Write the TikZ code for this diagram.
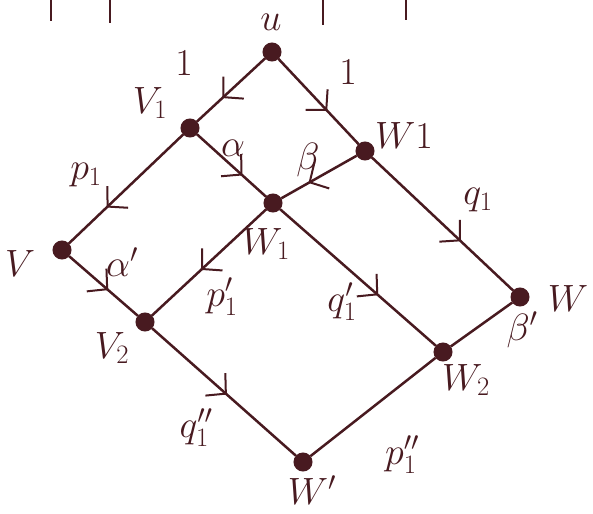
\RequirePackage{fix-cm}
\documentclass[tikz,border=0pt]{standalone}
\usetikzlibrary{arrows.meta,decorations.markings}
\definecolor{ink}{RGB}{72,26,32}
\tikzset{
  dot/.style={circle,fill=ink,draw=ink,line width=1pt,minimum size=18pt,inner sep=0pt},
  edge/.style={draw=ink,line width=2.5pt},
  midarrow/.style={postaction={decorate,decoration={markings,
      mark=at position #1 with {\arrow[ink,line width=2pt]{Straight Barb[length=14pt,width=30pt]}}}}},
  lab/.style={text=ink,inner sep=1pt,font=\fontsize{38}{42}\selectfont},
  tick/.style={draw=ink,line width=2.8pt}
}
\begin{document}
\begin{tikzpicture}[x=1pt,y=-1pt]
\useasboundingbox (0,0) rectangle (593,513);
% cut-off strokes at the top
\coordinate (t1a) at (51,0); \coordinate (t1b) at (51,21);
\coordinate (t2a) at (110,0); \coordinate (t2b) at (110,23);
\coordinate (t3a) at (323,0); \coordinate (t3b) at (323,25);
\coordinate (t4a) at (406,0); \coordinate (t4b) at (406,20);
\draw[tick] (t1a) -- (t1b);
\draw[tick] (t2a) -- (t2b);
\draw[tick] (t3a) -- (t3b);
\draw[tick] (t4a) -- (t4b);
% vertices
\node[dot] (u)  at (272,52) {};
\node[dot] (v1) at (190,128) {};
\node[dot] (W1) at (365,151) {};
\node[dot] (w1) at (273,203) {};
\node[dot] (v)  at (62,250) {};
\node[dot] (w)  at (520,297) {};
\node[dot] (v2) at (145,322) {};
\node[dot] (w2) at (443,352) {};
\node[dot] (wp) at (303,462) {};
% edges
\draw[edge,midarrow=0.63] (u) -- (v1);
\draw[edge,midarrow=0.61] (u) -- (W1);
\draw[edge,midarrow=0.67] (v1) -- (v);
\draw[edge,midarrow=0.66] (v1) -- (w1);
\draw[edge,midarrow=0.64] (W1) -- (w1);
\draw[edge,midarrow=0.63] (W1) -- (w);
\draw[edge,midarrow=0.57] (v) -- (v2);
\draw[edge,midarrow=0.57] (w1) -- (v2);
\draw[edge,midarrow=0.63] (w1) -- (w2);
\draw[edge] (w) -- (w2);
\draw[edge,midarrow=0.52] (v2) -- (wp);
\draw[edge] (w2) -- (wp);
% vertex labels
\node[lab] (lu)  at (271,22) {$u$};
\node[lab] (lv1) at (150,103) {$V_1$};
\node[lab] (lW1) at (404,136) {$W1$};
\node[lab] (lw1) at (266,244) {$W_1$};
\node[lab] (lv)  at (20,264) {$V$};
\node[lab] (lw)  at (568,299) {$W$};
\node[lab] (lv2) at (112,348) {$V_2$};
\node[lab] (lw2) at (466,380) {$W_2$};
\node[lab] (lwp) at (312,490) {$W'$};
% edge labels
\node[lab] (e1)  at (184,63) {$1$};
\node[lab] (e2)  at (348,72) {$1$};
\node[lab] (e3)  at (86,175) {$p_1$};
\node[lab] (e4)  at (233,148) {$\alpha$};
\node[lab] (e5)  at (308,160) {$\beta$};
\node[lab] (e6)  at (478,200) {$q_1$};
\node[lab] (e7)  at (122,262) {$\alpha'$};
\node[lab] (e8)  at (222,297) {$p_1'$};
\node[lab] (e9)  at (342,302) {$q_1'$};
\node[lab] (e10) at (522,330) {$\beta'$};
\node[lab] (e11) at (196,428) {$q_1''$};
\node[lab] (e12) at (402,455) {$p_1''$};
\end{tikzpicture}
\end{document}
